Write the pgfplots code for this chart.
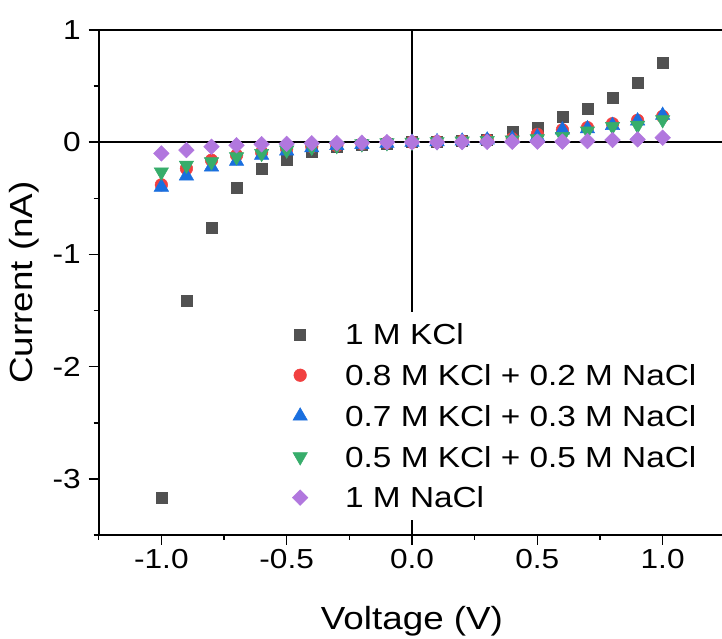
\documentclass[border=0pt]{standalone}
\usepackage{pgfplots}
\pgfplotsset{compat=1.18}
\usepackage{fontspec}
\setmainfont{Liberation Sans}[FakeStretch=1.15]
\definecolor{cgray}{HTML}{515151}
\definecolor{cred}{HTML}{F14040}
\definecolor{cblue}{HTML}{1A6FDF}
\definecolor{cgreen}{HTML}{37AD6B}
\definecolor{cpurple}{HTML}{B177DE}
\begin{document}
\begin{tikzpicture}
\begin{axis}[
  scale only axis,
  width=626.6bp, height=505bp,
  xmin=-1.25, xmax=1.25, ymin=-3.5, ymax=1,
  xtick={-1,-0.5,0,0.5,1},
  xticklabels={-1.0,-0.5,0.0,0.5,1.0},
  minor xtick={-1.25,-0.75,-0.25,0.25,0.75,1.25},
  ytick={-3,-2,-1,0,1},
  yticklabels={-3,-2,-1,0,1},
  minor ytick={-3.5,-2.5,-1.5,-0.5,0.5},
  xtick pos=bottom, ytick pos=left,
  tick align=outside,
  major tick length=10bp, minor tick length=5bp,
  every tick/.style={black, line width=1.6bp},
  axis line style={black, line width=1.8bp},
  tick label style={font=\fontsize{27.5bp}{32bp}\selectfont},
  xticklabel style={anchor=base, inner sep=0pt, yshift=-24bp},
  yticklabel style={anchor=east, inner sep=0pt, xshift=-7.7bp},
  xlabel={Voltage (V)},
  ylabel={Current (nA)},
  label style={font=\fontsize{32bp}{38bp}\selectfont},
  xlabel style={at={(axis description cs:0.5,-0.188)}, anchor=base},
  ylabel style={at={(axis description cs:-0.1049,0.5)}, anchor=base, rotate=0},
  legend style={at={(rel axis cs:0.2925,0.4416)}, anchor=north west,
    draw=none, fill=white, inner xsep=10bp, inner ysep=12bp,
    row sep=20.3bp,
    font=\fontsize{29bp}{34bp}\selectfont,
    nodes={inner sep=0pt, text height=20.5bp, text depth=0bp},
    /tikz/every odd column/.append style={column sep=37bp}},
  legend cell align=left,
  legend image code/.code={\path[draw=none,fill=none] (-8bp,-8bp) rectangle (8bp,8bp); \draw[#1] plot coordinates {(0bp,0bp)};},
]
\draw[black, line width=1.8bp] (axis cs:-1.25,0) -- (axis cs:1.25,0);
\draw[black, line width=1.8bp] (axis cs:0,-3.5) -- (axis cs:0,1);
\addplot[only marks, mark=square*, mark size=5.5bp, color=cgray, mark options={fill=cgray, draw=cgray, line width=0.5bp}] coordinates {
(-1.0,-3.17) (-0.9,-1.41) (-0.8,-0.76) (-0.7,-0.41) (-0.6,-0.24) (-0.5,-0.155) (-0.4,-0.086) (-0.3,-0.04) (-0.2,-0.02) (-0.1,-0.01) (0,0)
(0.1,0.005) (0.2,0.01) (0.3,0.025) (0.4,0.09) (0.5,0.13) (0.6,0.23) (0.7,0.30) (0.8,0.40) (0.9,0.53) (1.0,0.71)};
\addlegendentry{1 M KCl}
\addplot[only marks, mark=*, mark size=6.3bp, color=cred, mark options={fill=cred, draw=cred, line width=0.5bp}] coordinates {
(-1.0,-0.38) (-0.9,-0.235) (-0.8,-0.16) (-0.7,-0.116) (-0.6,-0.09) (-0.5,-0.06) (-0.4,-0.04) (-0.3,-0.03) (-0.2,-0.015) (-0.1,-0.005) (0,0)
(0.1,0.005) (0.2,0.01) (0.3,0.02) (0.4,0.03) (0.5,0.07) (0.6,0.11) (0.7,0.13) (0.8,0.165) (0.9,0.195) (1.0,0.23)};
\addlegendentry{0.8 M KCl + 0.2 M NaCl}
\addplot[only marks, mark=triangle*, mark size=8.3bp, color=cblue, mark options={fill=cblue, draw=cblue, line width=0.5bp}] coordinates {
(-1.0,-0.40) (-0.9,-0.30) (-0.8,-0.22) (-0.7,-0.17) (-0.6,-0.116) (-0.5,-0.078) (-0.4,-0.05) (-0.3,-0.03) (-0.2,-0.02) (-0.1,-0.01) (0,0)
(0.1,0.005) (0.2,0.01) (0.3,0.02) (0.4,0.03) (0.5,0.05) (0.6,0.11) (0.7,0.12) (0.8,0.15) (0.9,0.19) (1.0,0.24)};
\addlegendentry{0.7 M KCl + 0.3 M NaCl}
\addplot[only marks, mark=triangle*, mark size=8.3bp, color=cgreen, mark options={fill=cgreen, draw=cgreen, line width=0.5bp, rotate=180}] coordinates {
(-1.0,-0.265) (-0.9,-0.205) (-0.8,-0.175) (-0.7,-0.13) (-0.6,-0.10) (-0.5,-0.07) (-0.4,-0.045) (-0.3,-0.03) (-0.2,-0.015) (-0.1,-0.005) (0,0)
(0.1,0.005) (0.2,0.01) (0.3,0.015) (0.4,0.02) (0.5,0.03) (0.6,0.05) (0.7,0.10) (0.8,0.14) (0.9,0.15) (1.0,0.20)};
\addlegendentry{0.5 M KCl + 0.5 M NaCl}
\addplot[only marks, mark=diamond*, mark size=7.8bp, color=cpurple, mark options={fill=cpurple, draw=cpurple, line width=0.5bp, xscale=1.33}] coordinates {
(-1.0,-0.10) (-0.9,-0.07) (-0.8,-0.04) (-0.7,-0.027) (-0.6,-0.018) (-0.5,-0.015) (-0.4,-0.01) (-0.3,-0.008) (-0.2,-0.005) (-0.1,0) (0,0)
(0.1,0) (0.2,0.002) (0.3,0.003) (0.4,0.004) (0.5,0.005) (0.6,0.005) (0.7,0.01) (0.8,0.02) (0.9,0.025) (1.0,0.04)};
\addlegendentry{1 M NaCl}
\end{axis}
\pgfresetboundingbox
\path ([shift={(-98.7bp,-104bp)}]current axis.south west) rectangle ([shift={(-3.3bp,30bp)}]current axis.north east);
\end{tikzpicture}
\end{document}
